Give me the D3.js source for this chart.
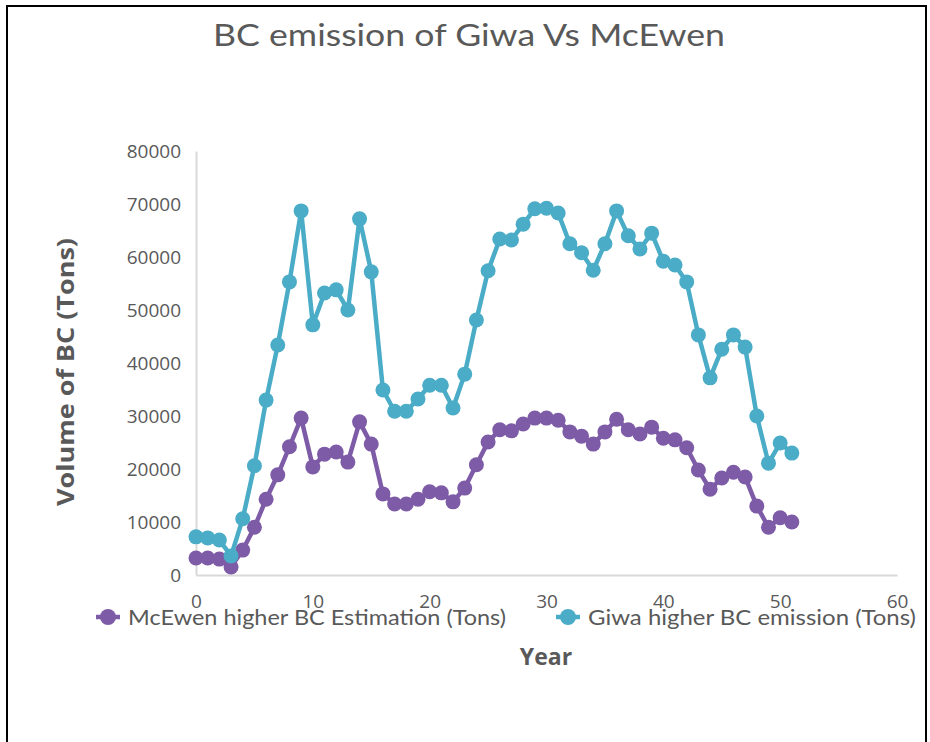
<!DOCTYPE html>
<html>
<head>
<meta charset="utf-8">
<script src="https://cdn.jsdelivr.net/npm/d3@7"></script>
<style>
  html, body { margin: 0; padding: 0; background: #fff; }
  svg { display: block; }
</style>
</head>
<body>
<svg id="chart" width="930" height="742"></svg>
<script>
// Year index 0..51
const years = d3.range(0, 52);

// McEwen higher BC Estimation (Tons)
const mcewen = [3200, 3200, 3000, 1500, 4700, 9000, 14300, 18900, 24200, 29600,
  20400, 22800, 23200, 21300, 28900, 24700, 15300, 13400, 13400, 14300,
  15700, 15500, 13800, 16400, 20800, 25100, 27400, 27200, 28500, 29600,
  29600, 29200, 27000, 26200, 24700, 27000, 29400, 27400, 26600, 27900,
  25800, 25500, 24000, 19800, 16200, 18300, 19400, 18500, 13000, 9000,
  10800, 10000];

// Giwa higher BC emission (Tons)
const giwa = [7200, 7000, 6600, 3600, 10600, 20600, 33000, 43400, 55300, 68700,
  47200, 53200, 53800, 50000, 67200, 57200, 34900, 30900, 30900, 33200,
  35800, 35800, 31500, 37900, 48100, 57400, 63400, 63200, 66200, 69100,
  69200, 68300, 62500, 60800, 57500, 62500, 68700, 64000, 61500, 64500,
  59200, 58500, 55300, 45300, 37200, 42600, 45300, 43000, 30000, 21100,
  24900, 23000];

const xTicks = [0, 10, 20, 30, 40, 50, 60];
const yTicks = [0, 10000, 20000, 30000, 40000, 50000, 60000, 70000, 80000];

const seriesNames = ["McEwen higher BC Estimation (Tons)", "Giwa higher  BC emission (Tons)"];
const seriesColors = ["#7d5ba6", "#4aacc6"];

const svg = d3.select("#chart");
const textColor = "#595959";
const font = "Lato, 'Open Sans', sans-serif";
const tickFont = "'Open Sans', sans-serif";

// frame
svg.append("path")
  .attr("d", "M7,742 L7,6 L926,6 L926,742")
  .attr("fill", "none").attr("stroke", "#000").attr("stroke-width", 2);

const plot = { left: 196, right: 897, top: 151, bottom: 575 };
const x = d3.scaleLinear().domain([0, 60]).range([plot.left, plot.right]);
const y = d3.scaleLinear().domain([0, 80000]).range([plot.bottom, plot.top]);

// axes
const yAxis = svg.append("g").attr("transform", `translate(${plot.left},0)`)
  .call(d3.axisLeft(y).tickValues(yTicks).tickSize(0).tickPadding(15).tickFormat(d3.format("d")));
yAxis.select(".domain").attr("stroke", "#d9d9d9").attr("stroke-width", 2);
yAxis.selectAll("text").attr("fill", textColor).attr("font-size", 19).attr("font-family", tickFont);

const xAxis = svg.append("g").attr("transform", `translate(0,${plot.bottom})`)
  .call(d3.axisBottom(x).tickValues(xTicks).tickSize(0).tickPadding(20));
xAxis.select(".domain").attr("stroke", "#d9d9d9").attr("stroke-width", 2);
xAxis.selectAll("text").attr("fill", textColor).attr("font-size", 19).attr("font-family", tickFont);

// series
const line = d3.line().x((d, i) => x(years[i])).y(d => y(d));
[mcewen, giwa].forEach((vals, k) => {
  svg.append("path").datum(vals)
    .attr("d", line)
    .attr("fill", "none")
    .attr("stroke", seriesColors[k])
    .attr("stroke-width", 4.5)
    .attr("stroke-linejoin", "round");
  svg.append("g").selectAll("circle").data(vals).join("circle")
    .attr("cx", (d, i) => x(years[i]))
    .attr("cy", d => y(d))
    .attr("r", 7.5)
    .attr("fill", seriesColors[k]);
});

// title
svg.append("text")
  .attr("x", 469).attr("y", 46)
  .attr("text-anchor", "middle")
  .attr("fill", textColor).attr("font-family", font).attr("font-size", 30)
  .attr("textLength", 512).attr("lengthAdjust", "spacingAndGlyphs")
  .text("BC emission of Giwa Vs McEwen");

// y axis title
svg.append("text")
  .attr("transform", "translate(74,372) rotate(-90)")
  .attr("text-anchor", "middle")
  .attr("fill", textColor).attr("font-family", "'Open Sans', sans-serif")
  .attr("font-weight", "bold").attr("font-size", 23)
  .attr("textLength", 268).attr("lengthAdjust", "spacingAndGlyphs")
  .text("Volume of BC (Tons)");

// x axis title
svg.append("text")
  .attr("x", 546).attr("y", 665)
  .attr("text-anchor", "middle")
  .attr("fill", textColor).attr("font-family", "'Open Sans', sans-serif")
  .attr("font-weight", "bold").attr("font-size", 23)
  .text("Year");

// legend
const legendItems = [
  { mx: 108, tx: 128, w: 378 },
  { mx: 568, tx: 588, w: 328 }
];
legendItems.forEach((it, k) => {
  svg.append("line")
    .attr("x1", it.mx - 12).attr("x2", it.mx + 12)
    .attr("y1", 617).attr("y2", 617)
    .attr("stroke", seriesColors[k]).attr("stroke-width", 4.5);
  svg.append("circle").attr("cx", it.mx).attr("cy", 617).attr("r", 8)
    .attr("fill", seriesColors[k]);
  svg.append("text")
    .attr("x", it.tx).attr("y", 625)
    .attr("fill", textColor).attr("font-family", font).attr("font-size", 21)
    .attr("textLength", it.w).attr("lengthAdjust", "spacingAndGlyphs")
    .text(seriesNames[k]);
});
</script>
</body>
</html>
